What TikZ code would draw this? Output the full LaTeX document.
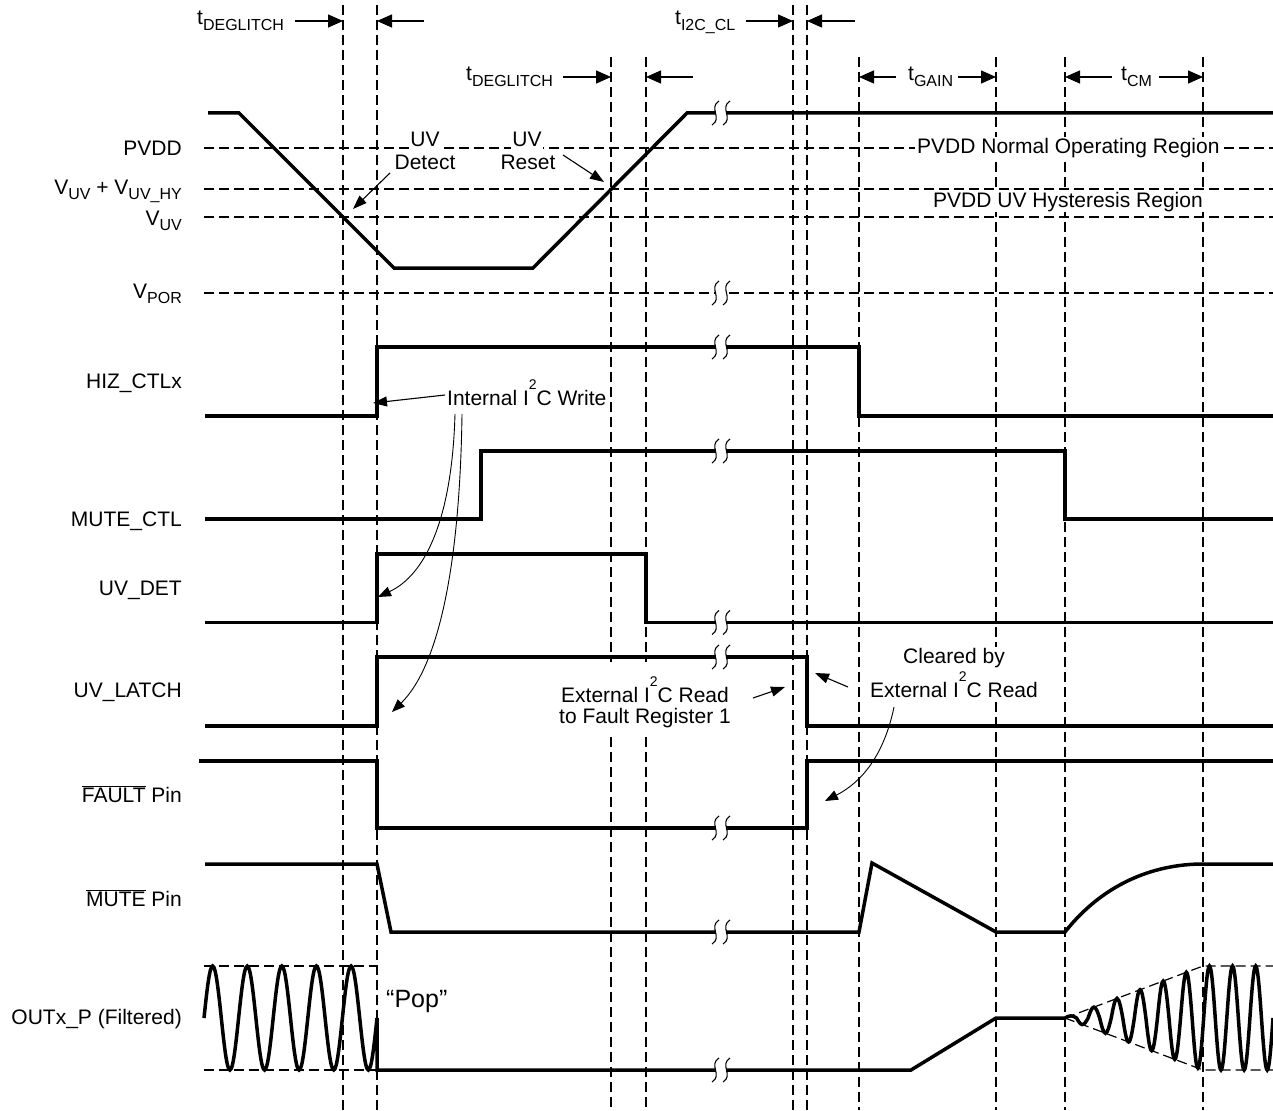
\documentclass[tikz,border=0pt]{standalone}
\usepackage{fontspec}
\setmainfont{Liberation Sans}
\usetikzlibrary{arrows.meta}
\newcommand\lsub[1]{\raisebox{-5.5pt}{\fontsize{16}{16}\selectfont #1}}
\newcommand\sqtwo{\raisebox{16pt}{\fontsize{14}{14}\selectfont 2}}
\newcommand\ovl[1]{$\overline{\mbox{#1}}$}
\begin{document}
\begin{tikzpicture}[x=1pt,y=-1pt,
  every node/.style={font=\fontsize{21}{23}\selectfont, inner sep=0pt},
  sig/.style={line width=3.5pt, line join=miter},
  gridln/.style={line width=1.2pt, dash pattern=on 10pt off 5pt},
  tarr/.style={line width=1.3pt, -{Triangle[length=15pt,width=13pt]}},
  narr/.style={line width=1.1pt, -{Triangle[length=14pt,width=10pt]}},
  carr/.style={line width=0.9pt, -{Triangle[length=13pt,width=10pt]}},
  lab/.style={anchor=base east},
  brkmark/.pic={
    \fill[white] (-5,-5) rectangle (5,5);
    \draw[line width=1.1pt] (-2,-12) .. controls (-13,-5) and (2,5) .. (-9,12);
    \draw[line width=1.1pt] (9,-12) .. controls (-2,-5) and (13,5) .. (2,12);
  }
]
\useasboundingbox (0,0) rectangle (1273,1110);

% ---------- vertical time markers ----------
\draw[gridln] (343,5) -- (343,1110);
\draw[gridln] (377,5) -- (377,1110);
\draw[gridln] (611,57) -- (611,662) (611,737) -- (611,1110);
\draw[gridln] (646,57) -- (646,662) (646,737) -- (646,1110);
\draw[gridln] (793,5) -- (793,1110);
\draw[gridln] (807,5) -- (807,1110);
\draw[gridln] (859,57) -- (859,1110);
\draw[gridln] (996,57) -- (996,1110);
\draw[gridln] (1065,57) -- (1065,1110);
\draw[gridln] (1203,57) -- (1203,1110);

% ---------- level lines ----------
\draw[gridln] (204,148) -- (1273,148);
\draw[gridln] (204,189) -- (1273,189);
\draw[gridln] (204,217) -- (1273,217);
\draw[gridln] (204,293) -- (1273,293);

% OUTx envelopes
\draw[gridln] (204,966) -- (377,966);
\draw[gridln] (204,1070) -- (377,1070);
\draw[gridln] (1065,1018) -- (1203,966) -- (1273,966);
\draw[gridln] (1065,1018) -- (1203,1070) -- (1273,1070);

% ---------- texts that interrupt lines ----------
\node[anchor=base west, fill=white, inner sep=2pt] (nor) at (915,154) {PVDD Normal Operating Region};
\node[anchor=base west, fill=white, inner sep=1pt] (hys) at (932,207) {PVDD UV Hysteresis Region};
\node[anchor=base, fill=white, inner sep=1.5pt] (uvd1) at (425,147) {UV};
\node[anchor=base] (uvd2) at (425,170) {Detect};
\node[anchor=base, fill=white, inner sep=1.5pt] (uvr1) at (527,147) {UV};
\node[anchor=base] (uvr2) at (528,170) {Reset};
\node[anchor=base, fill=white, inner sep=1pt] (clr1) at (954,663) {Cleared by};
\node[anchor=base, fill=white, inner sep=1pt] (clr2) at (954,697) {External I\sqtwo C Read};

% ---------- signal labels ----------
\node[lab] (lpvdd) at (182,156) {PVDD};
\node[lab] (lhy) at (182,194) {V\lsub{UV} + V\lsub{UV\_HY}};
\node[lab] (luv) at (182,225) {V\lsub{UV}};
\node[lab] (lpor) at (182,298) {V\lsub{POR}};
\node[lab] (lhiz) at (182,388) {HIZ\_CTLx};
\node[lab] (lmc) at (182,526) {MUTE\_CTL};
\node[lab] (ldet) at (182,595) {UV\_DET};
\node[lab] (llat) at (182,697) {UV\_LATCH};
\node[lab] (lflt) at (182,802) {\ovl{FAULT} Pin};
\node[lab] (lmp) at (182,906) {\ovl{MUTE} Pin};
\node[lab] (lout) at (182,1024) {OUTx\_P (Filtered)};

% ---------- waveforms ----------
% PVDD
\draw[sig] (208,113) -- (239,113) -- (394,268) -- (533,268) -- (687,113) -- (1273,113);
% HIZ_CTLx
\draw[sig] (205,416) -- (377,416) -- (377,347) -- (859,347) -- (859,416) -- (1273,416);
% MUTE_CTL
\draw[sig] (205,519) -- (481,519) -- (481,451) -- (1065,451) -- (1065,519) -- (1273,519);
% UV_DET
\draw[sig] (205,622.5) -- (377,622.5) -- (377,554) -- (646,554) -- (646,622.5) -- (1273,622.5);
% UV_LATCH
\draw[sig] (205,726) -- (377,726) -- (377,657) -- (807,657) -- (807,726) -- (1273,726);
% FAULT pin
\draw[sig] (199,761) -- (377,761) -- (377,828) -- (807,828) -- (807,761) -- (1273,761);
% MUTE pin
\draw[sig] (205,864) -- (377,864) -- (391,932) -- (859,932) -- (872,863) -- (996,932) -- (1065,932)
  .. controls (1102,885) and (1152,864) .. (1203,864) -- (1273,864);
% OUTx_P
\draw[sig] (204,1018)
  \foreach \k in {1,...,5} { sin ++(8.65,-52) cos ++(8.65,52) sin ++(8.65,52) cos ++(8.65,-52) }
  -- (377,1070) -- (911,1070) -- (996,1018) -- (1065,1018)
  \foreach \k [evaluate=\k as \ap using {52*min(1,5.778*(4*\k+1)/138)},
               evaluate=\k as \at using {52*min(1,5.778*(4*\k+3)/138)}] in {0,...,8}
    { sin ++(5.778,-\ap) cos ++(5.778,\ap) sin ++(5.778,\at) cos ++(5.778,-\at) };

% ---------- break marks ----------
\foreach \yy in {113,293,347,451,622.5,657,828,932,1070}
  \pic at (721,\yy) {brkmark};

% ---------- timing arrows ----------
\node[anchor=base west] (tdg1) at (197,25) {t\lsub{DEGLITCH}};
\node[anchor=base west] (tdg2) at (466,81) {t\lsub{DEGLITCH}};
\node[anchor=base west] (ti2c) at (675,25) {t\lsub{I2C\_CL}};
\node[anchor=base west] (tgain) at (908,81) {t\lsub{GAIN}};
\node[anchor=base west] (tcm) at (1121,81) {t\lsub{CM}};
\coordinate (a1s) at (295,21);  \coordinate (a1e) at (343,21);
\coordinate (a2s) at (424,21);  \coordinate (a2e) at (377,21);
\coordinate (a3s) at (563,77);  \coordinate (a3e) at (611,77);
\coordinate (a4s) at (693,77);  \coordinate (a4e) at (646,77);
\coordinate (a5s) at (746,21);  \coordinate (a5e) at (793,21);
\coordinate (a6s) at (855,21);  \coordinate (a6e) at (807,21);
\coordinate (a7s) at (896,77);  \coordinate (a7e) at (859,77);
\coordinate (a8s) at (958,77);  \coordinate (a8e) at (996,77);
\coordinate (a9s) at (1112,77); \coordinate (a9e) at (1065,77);
\coordinate (a10s) at (1159,77); \coordinate (a10e) at (1203,77);
\foreach \k in {1,...,10} \draw[tarr] (a\k s) -- (a\k e);

% ---------- annotations ----------
\node[anchor=base west] (intw) at (447,405) {Internal I\sqtwo C Write};
\node[anchor=base] (ext1) at (645,702) {External I\sqtwo C Read};
\node[anchor=base] (ext2) at (645,723) {to Fault Register 1};
\node[anchor=base west, font=\fontsize{25}{25}\selectfont] (pop) at (386,1007) {“Pop”};

\coordinate (uvdt) at (353,209);
\coordinate (uvrt) at (604,182);
\draw[narr] (390,173) -- (uvdt);
\draw[narr] (563,155) -- (uvrt);
\draw[narr] (445,395) -- (373,403);
\draw[carr] (455,414) .. controls (452,520) and (425,575) .. (378,597);
\draw[carr] (462,414) .. controls (460,560) and (440,665) .. (392,712);
\draw[narr] (753,698) -- (785,687);
\draw[narr] (848,687) -- (815,673);
\draw[carr] (894,707) .. controls (884,755) and (862,782) .. (825,801);
\end{tikzpicture}
\end{document}
